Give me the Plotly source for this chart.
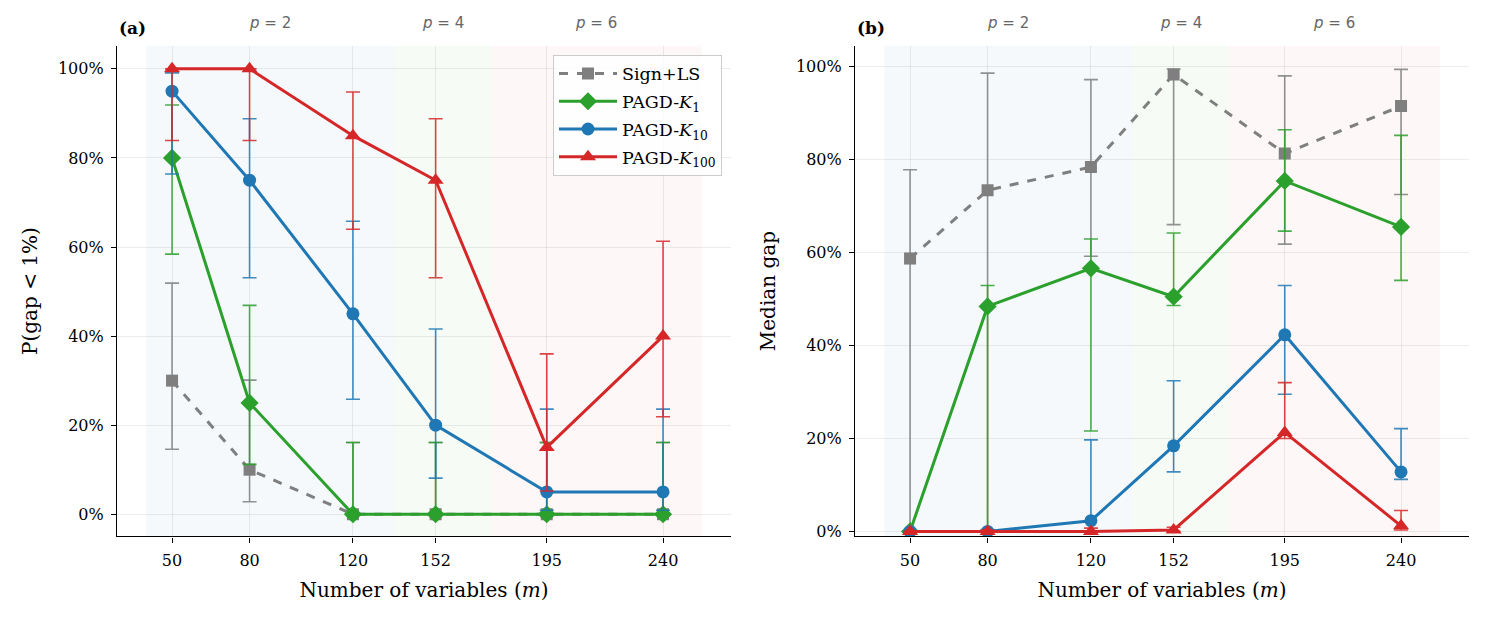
import plotly.graph_objects as go

m_vals = [50, 80, 120, 152, 195, 240]
series_names = ["Sign+LS", "PAGD-<i>K</i><sub>1</sub>", "PAGD-<i>K</i><sub>10</sub>", "PAGD-<i>K</i><sub>100</sub>"]
y_ticks = [0, 20, 40, 60, 80, 100]
y_tick_labels = ["0%", "20%", "40%", "60%", "80%", "100%"]

# Panel (a): P(gap < 1%) in percent, with lower/upper CI bounds
a_sign = [30, 10, 0, 0, 0, 0]
a_sign_lo = [14.6, 2.8, 0, 0, 0, 0]
a_sign_hi = [51.9, 30.1, 16.1, 16.1, 16.1, 16.1]
a_k1 = [80, 25, 0, 0, 0, 0]
a_k1_lo = [58.4, 11.2, 0, 0, 0, 0]
a_k1_hi = [91.9, 46.9, 16.1, 16.1, 16.1, 16.1]
a_k10 = [95, 75, 45, 20, 5, 5]
a_k10_lo = [76.4, 53.1, 25.8, 8.1, 0.9, 0.9]
a_k10_hi = [99.1, 88.8, 65.8, 41.6, 23.6, 23.6]
a_k100 = [100, 100, 85, 75, 15, 40]
a_k100_lo = [83.9, 83.9, 64.0, 53.1, 5.2, 21.9]
a_k100_hi = [100, 100, 94.8, 88.8, 36.0, 61.3]

# Panel (b): median gap in percent, with lower/upper bounds
b_sign = [58.7, 73.4, 78.4, 98.3, 81.3, 91.5]
b_sign_lo = [0, 0, 59.2, 66.0, 61.8, 72.5]
b_sign_hi = [77.8, 98.6, 97.2, 99.5, 98.0, 99.4]
b_k1 = [0, 48.4, 56.6, 50.5, 75.4, 65.5]
b_k1_lo = [0, 0, 21.6, 48.6, 64.6, 54.0]
b_k1_hi = [0, 52.9, 62.9, 64.2, 86.4, 85.2]
b_k10 = [0, 0, 2.3, 18.4, 42.3, 12.8]
b_k10_lo = [0, 0, 0, 12.8, 29.5, 11.2]
b_k10_hi = [0, 0.4, 19.7, 32.4, 52.9, 22.1]
b_k100 = [0, 0, 0, 0.3, 21.3, 1.2]
b_k100_lo = [0, 0, 0, 0, 20.0, 0.3]
b_k100_hi = [0, 0.3, 0.7, 0.9, 32.0, 4.5]

regions = [(40, 136, "rgba(31,119,180,0.045)", "<i>p</i> = 2"),
           (136, 173.5, "rgba(44,160,44,0.045)", "<i>p</i> = 4"),
           (173.5, 255, "rgba(214,39,40,0.035)", "<i>p</i> = 6")]

colors = ["#7f7f7f", "#2ca02c", "#1f77b4", "#d62728"]
err_colors = ["rgba(127,127,127,0.85)", "rgba(44,160,44,0.85)", "rgba(31,119,180,0.85)", "rgba(214,39,40,0.85)"]
symbols = ["square", "diamond", "circle", "triangle-up"]
dashes = ["dash", "solid", "solid", "solid"]
msizes = [12, 14, 13, 14]

SERIF = "DejaVu Serif"
fig = go.Figure()

panels = [
    ("x", "y", [(a_sign, a_sign_lo, a_sign_hi), (a_k1, a_k1_lo, a_k1_hi),
                (a_k10, a_k10_lo, a_k10_hi), (a_k100, a_k100_lo, a_k100_hi)], True),
    ("x2", "y2", [(b_sign, b_sign_lo, b_sign_hi), (b_k1, b_k1_lo, b_k1_hi),
                  (b_k10, b_k10_lo, b_k10_hi), (b_k100, b_k100_lo, b_k100_hi)], False),
]

for xa, ya, data, show in panels:
    for i, (v, lo, hi) in enumerate(data):
        fig.add_trace(go.Scatter(
            x=m_vals, y=v, xaxis=xa, yaxis=ya,
            mode="lines+markers", name=series_names[i], showlegend=show,
            legendgroup="g%d" % i,
            line=dict(color=colors[i], width=3, dash=dashes[i]),
            marker=dict(symbol=symbols[i], size=msizes[i], color=colors[i]),
            error_y=dict(type="data", symmetric=False,
                         array=[h - a for h, a in zip(hi, v)],
                         arrayminus=[a - l for a, l in zip(v, lo)],
                         color=err_colors[i], thickness=1.6, width=7),
        ))

shapes = []
annotations = []
for xa, ya in [("x", "y"), ("x2", "y2")]:
    for x0, x1, col, lab in regions:
        shapes.append(dict(type="rect", xref=xa, yref=ya + " domain", x0=x0, x1=x1, y0=0, y1=1,
                           fillcolor=col, line=dict(width=0), layer="below"))
        annotations.append(dict(xref=xa, yref="paper", x=(x0 + x1) / 2, y=1 - 23 / 617,
                                text=lab, showarrow=False, yanchor="middle",
                                font=dict(family="DejaVu Sans", size=15, color="#666666")))

annotations.append(dict(xref="paper", yref="paper", x=117 / 1485, y=1 - 28 / 617, text="<b>(a)</b>",
                        showarrow=False, xanchor="left", yanchor="middle",
                        font=dict(family=SERIF, size=17, color="black")))
annotations.append(dict(xref="paper", yref="paper", x=855 / 1485, y=1 - 28 / 617, text="<b>(b)</b>",
                        showarrow=False, xanchor="left", yanchor="middle",
                        font=dict(family=SERIF, size=17, color="black")))

axis_common = dict(showline=True, linecolor="black", linewidth=1.2, ticks="outside", ticklen=5,
                   tickcolor="black", showgrid=True, gridcolor="rgba(0,0,0,0.07)", gridwidth=1,
                   zeroline=False, tickfont=dict(family=SERIF, size=16, color="black"), mirror=False,
                   ticklabelstandoff=4)

xtitle = dict(text="Number of variables (<i>m</i>)", font=dict(family=SERIF, size=20, color="black"), standoff=14)

Y_BOT = 1 - 540 / 617
Y_TOP = 1 - 46 / 617

fig.update_layout(
    width=1485, height=617,
    margin=dict(l=0, r=0, t=0, b=0),
    paper_bgcolor="white", plot_bgcolor="white",
    shapes=shapes, annotations=annotations,
    xaxis=dict(domain=[117 / 1485, 731 / 1485], range=[28.7, 266.3], tickvals=m_vals,
               anchor="y", title=xtitle, **axis_common),
    yaxis=dict(domain=[Y_BOT, Y_TOP], range=[-5, 105.2], tickmode="array",
               tickvals=y_ticks, ticktext=y_tick_labels, anchor="x",
               title=dict(text="P(gap < 1%)", font=dict(family=SERIF, size=20, color="black"), standoff=14),
               **axis_common),
    xaxis2=dict(domain=[855 / 1485, 1469 / 1485], range=[28.7, 266.3], tickvals=m_vals,
                anchor="y2", title=xtitle, **axis_common),
    yaxis2=dict(domain=[Y_BOT, Y_TOP], range=[-1.1, 104.5], tickmode="array",
                tickvals=y_ticks, ticktext=y_tick_labels, anchor="x2",
                title=dict(text="Median gap", font=dict(family=SERIF, size=20, color="black"), standoff=14),
                **axis_common),
    legend=dict(x=722 / 1485, y=1 - 55 / 617, xanchor="right", yanchor="top",
                font=dict(family=SERIF, size=17.5, color="black"),
                bgcolor="rgba(255,255,255,0.85)", bordercolor="#cccccc", borderwidth=1,
                tracegroupgap=2, itemwidth=58),
    showlegend=True,
)

fig.write_html("out.html")
